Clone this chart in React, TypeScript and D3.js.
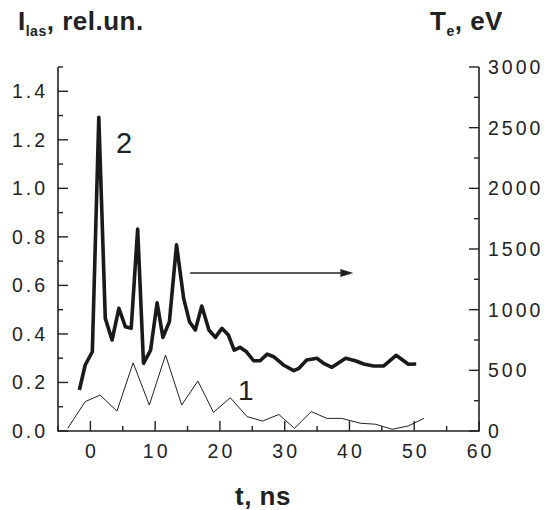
import React from 'react';
import * as d3 from 'd3';

// curve 2: electron temperature, eV (right axis)
const teTime = [-1.7, -0.8, 0.3, 1.3, 2.3, 3.35, 4.4, 5.4, 6.3, 7.3, 8.2, 9.3, 10.3, 11.2, 12.2, 13.3, 14.4, 15.3, 16.2, 17.2, 18.3, 19.3, 20.3, 21.3, 22.2, 23.1, 24.1, 25.2, 26.2, 27.3, 28.3, 29.8, 31.4, 32.2, 33.4, 35.0, 36.0, 37.3, 39.4, 40.9, 42.2, 43.7, 45.3, 47.2, 49.1, 50.3];
const teValue = [338, 544, 653, 2585, 928, 750, 1011, 860, 846, 1664, 558, 667, 1057, 772, 901, 1535, 1093, 901, 832, 1030, 832, 772, 846, 791, 667, 690, 653, 579, 579, 634, 612, 544, 497, 517, 585, 599, 558, 525, 599, 579, 552, 536, 536, 624, 550, 552];

// curve 1: laser intensity, rel. units (left axis)
const lasTime = [-3.5, -0.8, 1.5, 4.1, 6.6, 9.1, 11.6, 14.1, 16.6, 19.0, 21.6, 24.2, 26.6, 29.1, 31.5, 34.1, 36.5, 38.8, 41.7, 44.0, 46.6, 49.1, 51.5];
const lasValue = [0.011, 0.121, 0.148, 0.082, 0.281, 0.107, 0.313, 0.107, 0.206, 0.077, 0.137, 0.059, 0.041, 0.068, 0.011, 0.080, 0.052, 0.052, 0.032, 0.028, 0.007, 0.021, 0.052];

const xTicks = [0, 10, 20, 30, 40, 50, 60];
const leftTicks = [0, 0.2, 0.4, 0.6, 0.8, 1.0, 1.2, 1.4];
const rightTicks = [0, 500, 1000, 1500, 2000, 2500, 3000];

const W = 548, H = 510;
const left = 58, right = 479, top = 67, bottom = 431;
const numFont = { fontFamily: 'Liberation Sans, Arial, sans-serif', fontSize: 19.5, letterSpacing: 3 };
const boldFont = { fontFamily: 'Liberation Sans, Arial, sans-serif', fontWeight: 700 as const, fontSize: 26, letterSpacing: 0.5 };

export default function App() {
  const x = d3.scaleLinear([-5, 60], [left, right]);
  const yL = d3.scaleLinear([0, 1.5], [bottom, top]);
  const yR = d3.scaleLinear([0, 3000], [bottom, top]);

  const teLine = d3.line<number>().x((d, i) => x(teTime[i])).y(d => yR(d))(teValue) || '';
  const lasLine = d3.line<number>().x((d, i) => x(lasTime[i])).y(d => yL(d))(lasValue) || '';

  const xMinor = d3.range(-5, 61, 5);
  const lMinor = d3.range(0, 16).map(v => v / 10);
  const rMinor = d3.range(0, 3001, 250);

  // arrow pointing to the right axis
  const ax0 = x(15.4), ax1 = x(40.6), ay = yL(0.651);

  return (
    <svg width={W} height={H} style={{ position: 'absolute', left: 0, top: 0, background: '#fff' }}>
      {/* axes */}
      <path d={`M${left},${top}V${bottom}H${right}V${top}`} fill="none" stroke="#222" strokeWidth={1.6} />
      {xMinor.map(v => (
        <line key={'x' + v} x1={x(v)} x2={x(v)} y1={bottom} y2={bottom - (v % 10 === 0 ? 10 : 5)} stroke="#222" strokeWidth={1.4} />
      ))}
      {lMinor.map((v, i) => (
        <line key={'l' + i} x1={left} x2={left + (i % 2 === 0 ? 10 : 5)} y1={yL(v)} y2={yL(v)} stroke="#222" strokeWidth={1.4} />
      ))}
      {rMinor.map(v => (
        <line key={'r' + v} x1={right} x2={right - (v % 500 === 0 ? 10 : 5)} y1={yR(v)} y2={yR(v)} stroke="#222" strokeWidth={1.4} />
      ))}

      {/* tick labels */}
      {xTicks.map(v => (
        <text key={'xt' + v} x={x(v) + 1.5} y={458} textAnchor="middle" fill="#222" style={numFont}>{v}</text>
      ))}
      {leftTicks.map(v => (
        <text key={'lt' + v} x={48} y={yL(v) + 7} textAnchor="end" fill="#222" style={numFont}>{v.toFixed(1)}</text>
      ))}
      {rightTicks.map(v => (
        <text key={'rt' + v} x={488} y={yR(v) + 7} fill="#222" style={numFont}>{v}</text>
      ))}

      {/* curves */}
      <path d={lasLine} fill="none" stroke="#222" strokeWidth={1} />
      <path d={teLine} fill="none" stroke="#1a1a1a" strokeWidth={3.6} strokeLinejoin="round" />

      {/* annotations */}
      <text x={116} y={153} fill="#222" style={{ fontFamily: 'Liberation Sans, Arial, sans-serif', fontSize: 29 }}>2</text>
      <text x={238} y={400} fill="#222" style={{ fontFamily: 'Liberation Sans, Arial, sans-serif', fontSize: 28 }}>1</text>
      <line x1={ax0} x2={ax1 - 10} y1={ay} y2={ay} stroke="#222" strokeWidth={1.4} />
      <path d={`M${ax1},${ay}L${ax1 - 13},${ay - 4}L${ax1 - 13},${ay + 4}Z`} fill="#222" />

      {/* axis titles */}
      <text x={18} y={30} fill="#222" style={boldFont}>
        I<tspan fontSize={14} dy={6}>las</tspan><tspan dy={-6}>, rel.un.</tspan>
      </text>
      <text x={430} y={30} fill="#222" style={boldFont}>
        T<tspan fontSize={14} dy={6}>e</tspan><tspan dy={-6}>, eV</tspan>
      </text>
      <text x={263} y={505} textAnchor="middle" fill="#222" style={boldFont}>t, ns</text>
    </svg>
  );
}
